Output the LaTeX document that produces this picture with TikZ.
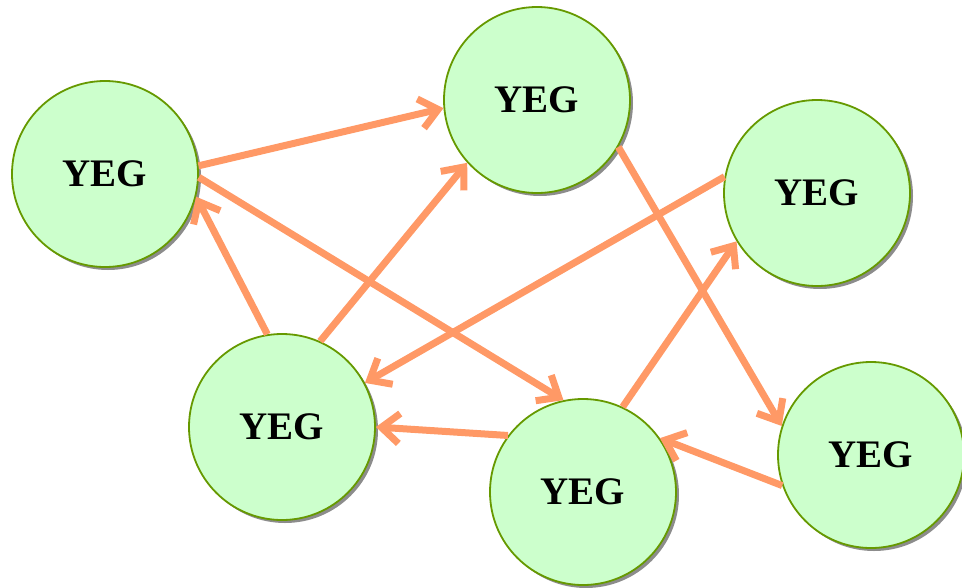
\documentclass[tikz,border=0pt]{standalone}
\usepackage{fontspec}
\setmainfont{Liberation Serif}
\usetikzlibrary{arrows.meta, shadows}

\definecolor{nodefill}{HTML}{CCFFCC}
\definecolor{nodeline}{HTML}{669900}
\definecolor{arrowcol}{HTML}{FF9966}

\begin{document}
\begin{tikzpicture}[x=1pt, y=-1pt,
        yeg/.style={circle, draw=nodeline, line width=1.8pt, fill=nodefill,
            minimum size=186pt, inner sep=0pt,
            font=\fontsize{39}{42}\selectfont\bfseries,
            drop shadow={shadow xshift=3pt, shadow yshift=-3pt, fill=black!45, opacity=1}},
        link/.style={draw=arrowcol, line width=7pt,
            -{Straight Barb[length=18pt, width=30pt]}}]
        \useasboundingbox (0, 0) rectangle (962, 587);
        \node[yeg] (y0) at (105, 174) {YEG};
        \node[yeg] (y1) at (537, 100) {YEG};
        \node[yeg] (y2) at (817, 193) {YEG};
        \node[yeg] (y3) at (282, 427) {YEG};
        \node[yeg] (y4) at (583, 492) {YEG};
        \node[yeg] (y5) at (871, 455) {YEG};

        \draw[link] (y0.5) to (y1.185);
        \draw[link] (y0.-2) to (y4.102);
        \draw[link] (y3.99) to (y0.-14);
        \draw[link] (y3.66) to (y1.222);
        \draw[link] (y2.170) to (y3.28);
        \draw[link] (y1.-30) to (y5.162);
        \draw[link] (y4.65) to (y2.211);
        \draw[link] (y4.143) to (y3.0);
        \draw[link] (y5.199) to (y4.35);
    \end{tikzpicture}
\end{document}
